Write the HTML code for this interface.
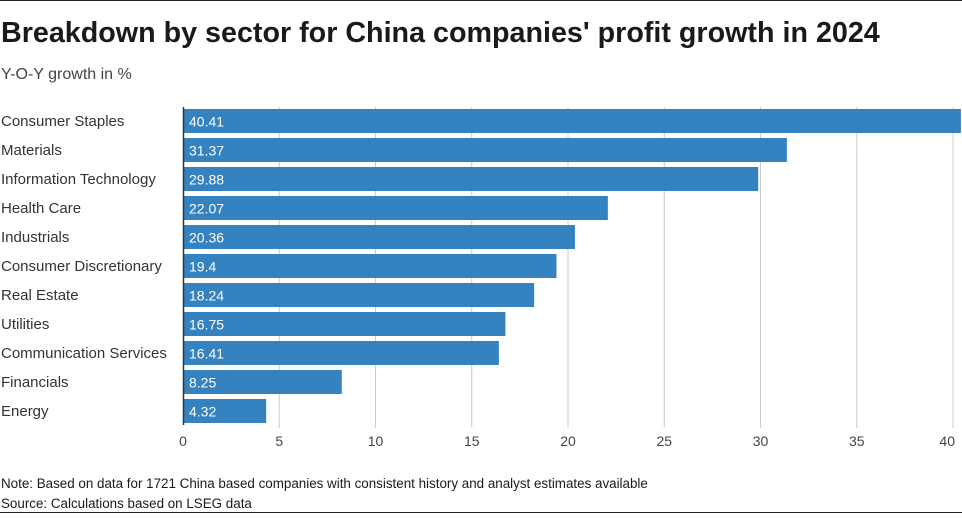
<!DOCTYPE html>
<html><head><meta charset="utf-8"><style>
body{margin:0;background:#fff;width:962px;height:514px;overflow:hidden;font-family:"Liberation Sans",sans-serif;}
</style></head><body>
<svg width="962" height="514" xmlns="http://www.w3.org/2000/svg" font-family="Liberation Sans, sans-serif">
<line x1="0" y1="0.5" x2="962" y2="0.5" stroke="#222"/>
<line x1="0" y1="512.5" x2="962" y2="512.5" stroke="#222"/>
<text x="1" y="42" font-size="28.7" font-weight="bold" fill="#1a1a1a">Breakdown by sector for China companies' profit growth in 2024</text>
<text x="1" y="79" font-size="16" fill="#444">Y-O-Y growth in %</text>
<g id="grid"></g><g id="bars"></g><g id="labels"></g><g id="ticks"></g>
<line x1="183.5" y1="107" x2="183.5" y2="425" stroke="#333" stroke-width="1.5"/>
<text x="1" y="488" font-size="13.4" fill="#1a1a1a">Note: Based on data for 1721 China based companies with consistent history and analyst estimates available</text>
<text x="1" y="508" font-size="13.4" fill="#1a1a1a">Source: Calculations based on LSEG data</text>
</svg>
<script>
const categories=["Consumer Staples","Materials","Information Technology","Health Care","Industrials","Consumer Discretionary","Real Estate","Utilities","Communication Services","Financials","Energy"];
const values=[40.41,31.37,29.88,22.07,20.36,19.4,18.24,16.75,16.41,8.25,4.32];
const valueLabels=["40.41","31.37","29.88","22.07","20.36","19.4","18.24","16.75","16.41","8.25","4.32"];
const tickValues=[0,5,10,15,20,25,30,35,40];
const NS="http://www.w3.org/2000/svg";
const x=v=>183+v*19.25;
const y=i=>109+i*29;
function mk(t,a,p){const e=document.createElementNS(NS,t);for(const k in a)e.setAttribute(k,a[k]);document.getElementById(p).appendChild(e);return e;}
tickValues.forEach(t=>{
  if(t>0){const g=mk('line',{x1:x(t),x2:x(t),y1:107,y2:428,stroke:'#ccc'},'grid');
  
  }
  const tx=mk('text',{x:x(t),y:446,'font-size':14,fill:'#444','text-anchor':t===40?'end':'middle'},'ticks');
  if(t===40)tx.setAttribute('x',x(t)+2);
  tx.textContent=t;
  
  
});
categories.forEach((c,i)=>{
  const r=mk('rect',{x:184,y:y(i),width:x(values[i])-184,height:24,fill:'#3582c0'},'bars');
  
  
  const v=mk('text',{x:189,y:y(i)+17.5,'font-size':14,fill:'#fff'},'bars');
  v.textContent=valueLabels[i];
  
  
  const l=mk('text',{x:1,y:y(i)+17,'font-size':15,fill:'#333'},'labels');
  l.textContent=c;
  
  
});
</script>
</body></html>
